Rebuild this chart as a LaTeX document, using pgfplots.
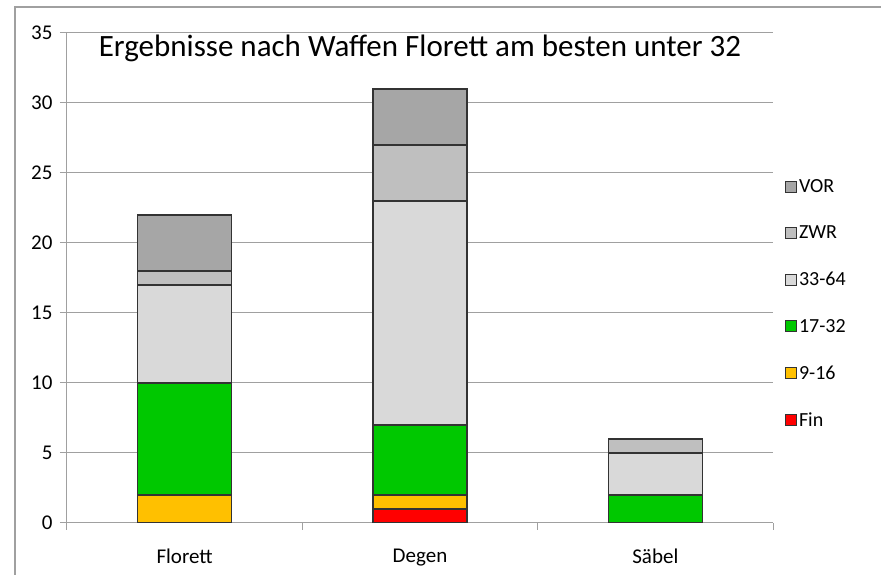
\documentclass[border=0pt]{standalone}
\usepackage{pgfplots}
\pgfplotsset{compat=1.18}
\usepackage{fontspec}
\setmainfont{Carlito}
\definecolor{cVOR}{HTML}{A6A6A6}
\definecolor{cZWR}{HTML}{BFBFBF}
\definecolor{cL}{HTML}{D9D9D9}
\definecolor{cG}{HTML}{00C800}
\definecolor{cO}{HTML}{FFC000}
\definecolor{cR}{HTML}{FF0000}
\definecolor{gridc}{HTML}{A0A0A0}
\begin{document}
\begin{tikzpicture}[x=1pt,y=1pt]
\begin{axis}[
  scale only axis, width=706pt, height=490pt,
  xmin=-0.5, xmax=2.5, ymin=0, ymax=35,
  ybar stacked, bar width=94pt,
  axis x line*=bottom, axis y line*=left,
  axis line style={gridc, line width=1pt},
  every tick/.style={gridc, line width=1pt},
  tick align=outside, major tick length=7pt,
  xtick={-0.5,0.5,1.5,2.5}, xticklabels={},
  extra x ticks={0,1,2}, extra x tick labels={Florett,Degen,Säbel},
  extra x tick style={major tick length=0pt, grid=none, tick style={draw=none}},
  xticklabel style={font=\fontsize{21}{24}\selectfont, yshift=-22pt},
  ytick={0,5,...,35},
  yticklabel style={font=\fontsize{21}{24}\selectfont, xshift=-4pt},
  /pgf/number format/assume math mode=true,
  ymajorgrids, grid style={gridc, line width=1pt},
  every axis plot/.append style={draw=black!80, line width=1.1pt},
  legend style={at={(rel axis cs:1.0,0.71)}, anchor=north west, draw=none, fill=none,
    font=\fontsize{20}{23}\selectfont, row sep=28pt, xshift=9pt},
  legend cell align=left,
  reverse legend,
  legend image code/.code={\draw[#1, line width=0.8pt] (0pt,-5.5pt) rectangle (11pt,5.5pt);},
]
\addplot[fill=cR] coordinates {(0,0) (1,1) (2,0)};
\addplot[fill=cO] coordinates {(0,2) (1,1) (2,0)};
\addplot[fill=cG] coordinates {(0,8) (1,5) (2,2)};
\addplot[fill=cL] coordinates {(0,7) (1,16) (2,3)};
\addplot[fill=cZWR] coordinates {(0,1) (1,4) (2,1)};
\addplot[fill=cVOR] coordinates {(0,4) (1,4) (2,0)};
\legend{Fin,9-16,17-32,33-64,ZWR,VOR}
\node[font=\fontsize{31}{37}\selectfont] at (axis description cs:0.5,0.968) {Ergebnisse nach Waffen Florett am besten unter 32};
\coordinate (O) at (rel axis cs:0,0);
\end{axis}
\pgfresetboundingbox
\path (O) ++(-67,-52) coordinate (BL);
\useasboundingbox (BL) rectangle ++(881,575);
\draw[gridc, line width=1.5pt] (BL) ++(15,0) -- ++(0,568) -- ++(866,0);
\end{tikzpicture}
\end{document}
